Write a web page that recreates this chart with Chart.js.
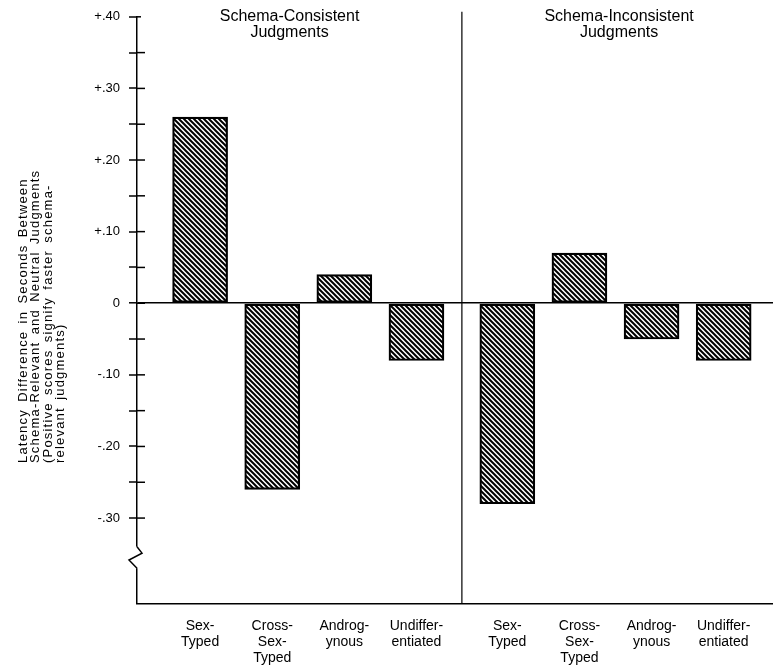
<!DOCTYPE html>
<html>
<head>
<meta charset="utf-8">
<script src="https://cdn.jsdelivr.net/npm/chart.js@4.4.1/dist/chart.umd.min.js"></script>
<style>
html,body{margin:0;padding:0;background:#fff;}
#wrap{width:773px;height:665px;position:relative;}
</style>
</head>
<body>
<div id="wrap"><canvas id="c"></canvas></div>
<script>
// ---------- data ----------
const categories = ['Sex-Typed', 'Cross-Sex-Typed', 'Androgynous', 'Undifferentiated'];
const categoryLines = [['Sex-', 'Typed'], ['Cross-', 'Sex-', 'Typed'], ['Androg-', 'ynous'], ['Undiffer-', 'entiated']];
const groupNames = ['Schema-Consistent Judgments', 'Schema-Inconsistent Judgments'];
const groupLines = [['Schema-Consistent', 'Judgments'], ['Schema-Inconsistent', 'Judgments']];
const consistentValues = [0.26, -0.26, 0.04, -0.08];
const inconsistentValues = [-0.28, 0.07, -0.05, -0.08];
const yTickValues = [0.40, 0.35, 0.30, 0.25, 0.20, 0.15, 0.10, 0.05, 0, -0.05, -0.10, -0.15, -0.20, -0.25, -0.30];
const yTickLabels = ['+.40', '', '+.30', '', '+.20', '', '+.10', '', '0', '', '-.10', '', '-.20', '', '-.30'];
const yAxisTitle = ['Latency Difference in Seconds Between', 'Schema-Relevant and Neutral Judgments', '(Positive scores signify faster schema-', 'relevant judgments)'];

// ---------- layout ----------
const GROUP_GAP = 0.26;
const FONT = '"Liberation Sans", Arial, Helvetica, sans-serif';
function slot(g, i) { return i + g * (categories.length + GROUP_GAP); }
const slots = [];
groupNames.forEach((_, g) => categories.forEach((_, i) => slots.push(slot(g, i))));
const headerAnchor = [1.24, 5.81];

function hatch() {
  const s = 5;
  const c = document.createElement('canvas');
  c.width = s; c.height = s;
  const x = c.getContext('2d');
  x.fillStyle = '#fff'; x.fillRect(0, 0, s, s);
  x.strokeStyle = '#000'; x.lineWidth = 2; x.lineCap = 'square';
  x.beginPath();
  x.moveTo(-1, -1); x.lineTo(s + 1, s + 1);
  x.moveTo(-1, s - 1); x.lineTo(1, s + 1);
  x.moveTo(s - 1, -1); x.lineTo(s + 1, 1);
  x.stroke();
  return x.createPattern(c, 'repeat');
}
const pat = hatch();

const decor = {
  id: 'decor',
  afterDraw(chart) {
    const ctx = chart.ctx, ca = chart.chartArea;
    const xs = chart.scales.x, ys = chart.scales.y;
    ctx.save();
    ctx.strokeStyle = '#000';
    ctx.fillStyle = '#000';
    // right halves of cross ticks
    ctx.lineWidth = 1.5;
    yTickValues.forEach(v => {
      const y = ys.getPixelForValue(v);
      ctx.beginPath(); ctx.moveTo(ca.left, y); ctx.lineTo(ca.left + (v === 0.40 ? 4 : 8), y); ctx.stroke();
    });
    // axis break
    const yb1 = ys.getPixelForValue(-0.340), yb2 = ys.getPixelForValue(-0.370);
    ctx.fillStyle = '#fff';
    ctx.fillRect(ca.left - 3, yb1, 6, yb2 - yb1);
    ctx.beginPath();
    ctx.lineWidth = 1.5;
    ctx.moveTo(ca.left, yb1);
    ctx.lineTo(ca.left + 5, yb1 + (yb2 - yb1) * 0.3);
    ctx.lineTo(ca.left - 8, yb1 + (yb2 - yb1) * 0.62);
    ctx.lineTo(ca.left, yb2);
    ctx.stroke();
    // divider
    const xd = xs.getPixelForValue((slot(0, categories.length - 1) + slot(1, 0)) / 2);
    ctx.lineWidth = 1.2;
    ctx.beginPath(); ctx.moveTo(xd, ca.top - 5); ctx.lineTo(xd, ca.bottom); ctx.stroke();
    // group headers
    ctx.fillStyle = '#000';
    ctx.font = '16px ' + FONT;
    ctx.textAlign = 'center';
    ctx.textBaseline = 'middle';
    groupLines.forEach((lines, g) => {
      const x = xs.getPixelForValue(headerAnchor[g]);
      lines.forEach((t, k) => ctx.fillText(t, x, 17 + k * 15.5));
    });
    // y axis title
    ctx.font = '13px ' + FONT;
    try { ctx.letterSpacing = '1.2px'; ctx.wordSpacing = '2.5px'; } catch (e) {}
    ctx.textAlign = 'left';
    ctx.textBaseline = 'middle';
    yAxisTitle.forEach((t, k) => {
      ctx.save();
      ctx.translate(23 + k * 12.6, 463);
      ctx.rotate(-Math.PI / 2);
      ctx.fillText(t, 0, 0);
      ctx.restore();
    });
    ctx.restore();
  }
};

function pts(vals, g) { return vals.map((v, i) => ({ x: slot(g, i), y: v })); }

Chart.defaults.font.family = FONT;
Chart.defaults.color = '#000';

new Chart(document.getElementById('c'), {
  type: 'bar',
  data: {
    datasets: [
      { label: groupNames[0], data: pts(consistentValues, 0), backgroundColor: pat, borderColor: '#000', borderWidth: 2.2, borderSkipped: false, grouped: false, barThickness: 55 },
      { label: groupNames[1], data: pts(inconsistentValues, 1), backgroundColor: pat, borderColor: '#000', borderWidth: 2.2, borderSkipped: false, grouped: false, barThickness: 55 }
    ]
  },
  options: {
    responsive: true,
    maintainAspectRatio: false,
    animation: false,
    layout: { padding: { top: 16, right: 0, left: 0, bottom: 0 } },
    plugins: { legend: { display: false }, tooltip: { enabled: false } },
    scales: {
      x: {
        type: 'linear',
        min: -0.875,
        max: 7.944,
        offset: false,
        afterBuildTicks: s => { s.ticks = slots.map(v => ({ value: v })); },
        afterFit: s => { s.height = 61; },
        ticks: {
          autoSkip: false, maxRotation: 0, padding: 14,
          font: { size: 14, lineHeight: 1.16 },
          callback: (v, i) => categoryLines[i % categories.length]
        },
        grid: { display: true, color: 'rgba(0,0,0,0)', drawTicks: false, offset: false },
        border: { display: true, color: '#000', width: 1.5 }
      },
      y: {
        min: -0.42,
        max: 0.40,
        afterBuildTicks: s => { s.ticks = yTickValues.map(v => ({ value: v })); },
        afterFit: s => { s.width = 137; },
        ticks: {
          padding: 9,
          font: { size: 13 },
          callback: v => { const k = yTickValues.indexOf(v); return k >= 0 ? yTickLabels[k] : ''; }
        },
        grid: {
          color: c => (c.tick && c.tick.value === 0 ? '#000' : 'rgba(0,0,0,0)'),
          lineWidth: c => (c.tick && c.tick.value === 0 ? 1.6 : 0),
          tickColor: '#000', tickWidth: 1.5, tickLength: 8, drawTicks: true
        },
        border: { display: true, color: '#000', width: 1.5 }
      }
    }
  },
  plugins: [decor]
});
</script>
</body>
</html>
